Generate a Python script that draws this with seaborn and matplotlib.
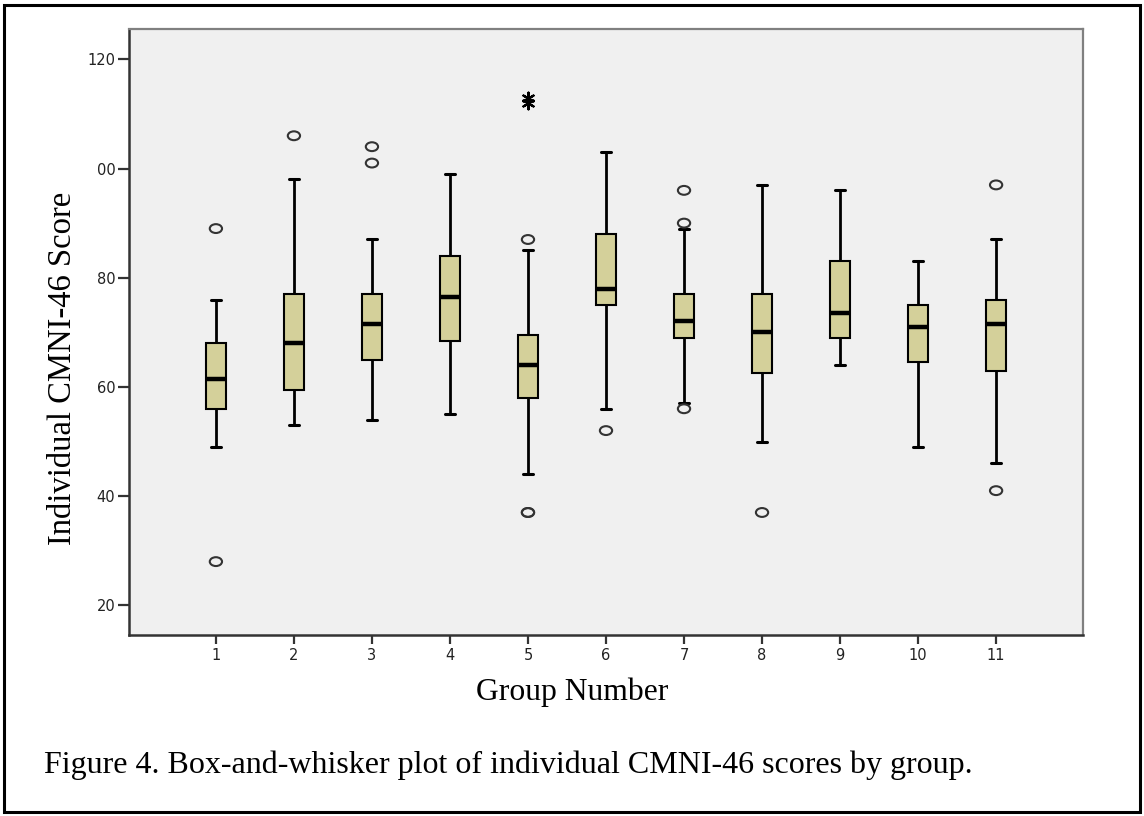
import numpy as np
import pandas as pd
import matplotlib
matplotlib.use("Agg")
import matplotlib.pyplot as plt
from matplotlib.patches import Rectangle
from matplotlib.path import Path
import seaborn as sns

# ---- data (five-number summaries per group) ----
groups = ["1", "2", "3", "4", "5", "6", "7", "8", "9", "10", "11"]
whisker_low = [49, 53, 54, 55, 44, 56, 57, 50, 64, 49, 46]
q1 = [56, 59.5, 65, 68.5, 58, 75, 69, 62.5, 69, 64.5, 63]
median = [61.5, 68, 71.5, 76.5, 64, 78, 72, 70, 73.5, 71, 71.5]
q3 = [68, 77, 77, 84, 69.5, 88, 77, 77, 83, 75, 76]
whisker_high = [76, 98, 87, 99, 85, 103, 89, 97, 96, 83, 87]

outlier_group = ["1", "1", "2", "3", "3", "5", "5", "5", "6", "7", "7", "7", "8", "11", "11"]
outlier_value = [89, 28, 106, 104, 101, 87, 37, 37, 52, 96, 90, 56, 37, 97, 41]
extreme_group = ["5", "5"]
extreme_value = [113, 112]

y_ticks = [20, 40, 60, 80, 100, 120]
y_tick_labels = ["20", "40", "60", "80", "00", "120"]

x_label = "Group Number"
y_label = "Individual CMNI-46 Score"
caption = "Figure 4. Box-and-whisker plot of individual CMNI-46 scores by group."

# ---- long table: each group's summary values ----
rows = []
for i, g in enumerate(groups):
    for v in (whisker_low[i], q1[i], median[i], q3[i], whisker_high[i]):
        rows.append({"group": g, "score": v})
df = pd.DataFrame(rows)

sns.set_style("white")
plt.rcParams["font.family"] = ["DejaVu Sans"]

W, H = 1144, 816
fig = plt.figure(figsize=(W / 100, H / 100), dpi=100)
fig.patch.set_facecolor("white")
ax = fig.add_axes([129.3 / W, 1 - 635 / H, (1082.7 - 129.3) / W, (635 - 29.3) / H])
ax.set_facecolor("#f0f0f0")

box_color = "#d4d09a"
sns.boxplot(data=df, x="group", y="score", order=groups, whis=(0, 100),
            width=0.256, color=box_color, saturation=1, linecolor="black",
            linewidth=1.5, showfliers=False,
            medianprops=dict(linewidth=3.2, color="black"),
            whiskerprops=dict(linewidth=2.0, color="black"),
            capprops=dict(linewidth=2.2, color="black"),
            ax=ax)

# outliers (open ellipses)
ell = Path.unit_circle()
ell = Path(ell.vertices * np.array([1.0, 0.72]), ell.codes)
o_pos = [groups.index(g) for g in outlier_group]
sns.scatterplot(x=o_pos, y=outlier_value, marker=ell, s=78, color="#333333", ax=ax, zorder=5)
coll = ax.collections[-1]
coll.set_facecolor("none")
coll.set_edgecolor("#333333")
coll.set_linewidth(1.5)

# extremes (asterisks)
e_pos = [groups.index(g) for g in extreme_group]
sns.scatterplot(x=e_pos, y=extreme_value, marker=(6, 2, 0), s=70, color="black", ax=ax, zorder=5)
coll = ax.collections[-1]
coll.set_edgecolor("black")
coll.set_linewidth(1.6)

ax.set_xlim(-1.11, 11.11)
ax.set_ylim(14.56, 125.5)
ax.set_yticks(y_ticks)
ax.set_yticklabels(y_tick_labels)
ax.set_xticks(range(len(groups)))
ax.set_xticklabels(groups)
ax.set_xlabel("")
ax.set_ylabel("")

ax.tick_params(axis="y", length=8, width=1.6, color="#333333", labelsize=10.5,
               labelcolor="#222222", pad=2, left=True)
ax.tick_params(axis="x", length=6.5, width=1.6, color="#333333", labelsize=10.5,
               labelcolor="#222222", pad=3, bottom=True)

for side in ("left", "bottom"):
    ax.spines[side].set_color("#333333")
    ax.spines[side].set_linewidth(1.8)
for side in ("top", "right"):
    ax.spines[side].set_color("#808080")
    ax.spines[side].set_linewidth(1.6)
for s in ax.spines.values():
    s.set_visible(True)

serif = ["Liberation Serif", "DejaVu Serif"]
fig.text(63 / W, 1 - 368 / H, y_label, rotation=90, ha="center", va="center",
         fontsize=23.5, family=serif, color="black")
fig.text(572 / W, 1 - 692 / H, x_label, ha="center", va="center",
         fontsize=22.8, family=serif, color="black")
fig.text(44 / W, 1 - 765 / H, caption, ha="left", va="center",
         fontsize=23.0, family=serif, color="black")

# outer frame
fig.patches.append(Rectangle((3.5 / W, 4 / H), (1140 - 3.5) / W, (811 - 4) / H,
                             transform=fig.transFigure, fill=False,
                             edgecolor="black", linewidth=2.2))

fig.savefig("out.png", dpi=100)
